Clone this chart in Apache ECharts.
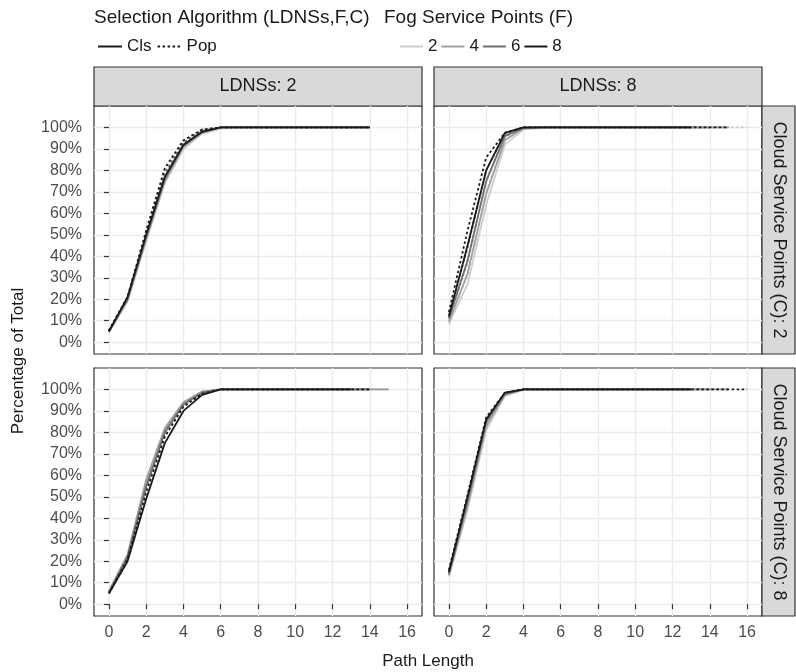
<!DOCTYPE html>
<html>
<head>
<meta charset="utf-8">
<script src="https://cdn.jsdelivr.net/npm/echarts@6/dist/echarts.min.js"></script>
<style>
  html, body { margin: 0; padding: 0; background: #fff; }
  #main { width: 796px; height: 672px; }
</style>
</head>
<body>
<div id="main"></div>
<script>
// path length (x) and tick labels
const pathLength = [0, 1, 2, 3, 4, 5, 6, 7, 8, 9, 10, 11, 12, 13, 14, 15, 16];
const xTicks = [0, 2, 4, 6, 8, 10, 12, 14, 16];
const yTicks = [0, 10, 20, 30, 40, 50, 60, 70, 80, 90, 100];
const algorithms = ['Cls', 'Pop'];
const fogPoints = ['2', '4', '6', '8'];
const ldnsLabels = ['LDNSs: 2', 'LDNSs: 8'];
const cloudLabels = ['Cloud Service Points (C): 2', 'Cloud Service Points (C): 8'];

// LDNSs 2, C 2 (percentage of total)
const l2c2ClsF2 = [4.5, 19, 47, 74, 90, 97, 99.5, 100, 100, 100, 100, 100, 100, 100, 100];
const l2c2ClsF4 = [5, 19.5, 48, 75, 91, 97.5, 100, 100, 100, 100, 100, 100, 100, 100, 100];
const l2c2ClsF6 = [5, 20, 49, 76, 91.5, 98, 100, 100, 100, 100, 100, 100, 100, 100, 100];
const l2c2ClsF8 = [5, 21, 50, 77, 92, 98, 100, 100, 100, 100, 100, 100, 100, 100, 100];
const l2c2PopF2 = [5, 20, 49, 77, 92, 98.5, 100, 100, 100, 100, 100, 100, 100, 100, 100];
const l2c2PopF4 = [5, 20.5, 50, 78, 92.5, 98.5, 100, 100, 100, 100, 100, 100, 100, 100, 100];
const l2c2PopF6 = [5.5, 21, 51, 79, 93, 99, 100, 100, 100, 100, 100, 100, 100, 100, 100];
const l2c2PopF8 = [5.5, 21, 52, 81, 94, 99, 100, 100, 100, 100, 100, 100, 100, 100, 100];

// LDNSs 8, C 2
const l8c2ClsF2 = [8.5, 27, 64, 92, 99, 99.8, 100, 100, 100, 100, 100, 100, 100, 100, 100];
const l8c2ClsF4 = [9.5, 32, 69, 94, 99.5, 100, 100, 100, 100, 100, 100, 100, 100, 100, 100];
const l8c2ClsF6 = [11, 38, 75, 96, 99.8, 100, 100, 100, 100, 100, 100, 100, 100, 100];
const l8c2ClsF8 = [12, 45, 80, 97.5, 100, 100, 100, 100, 100, 100, 100, 100, 100, 100];
const l8c2PopF2 = [10, 31, 70, 95, 99.5, 100, 100, 100, 100, 100, 100, 100, 100, 100, 100, 100, 100];
const l8c2PopF4 = [11, 37, 75, 96, 99.8, 100, 100, 100, 100, 100, 100, 100, 100, 100, 100, 100];
const l8c2PopF6 = [12.5, 44, 80, 97, 100, 100, 100, 100, 100, 100, 100, 100, 100, 100, 100, 100];
const l8c2PopF8 = [14, 52, 86, 97.5, 100, 100, 100, 100, 100, 100, 100, 100, 100, 100, 100, 100];

// LDNSs 2, C 8
const l2c8ClsF2 = [6, 23, 57, 81, 94, 99, 100, 100, 100, 100, 100, 100, 100, 100, 100, 100];
const l2c8ClsF4 = [6, 23, 58, 82, 94, 99, 100, 100, 100, 100, 100, 100, 100, 100, 100, 100];
const l2c8ClsF6 = [5.5, 22, 55, 80, 93, 98.5, 100, 100, 100, 100, 100, 100, 100, 100, 100];
const l2c8ClsF8 = [5, 20, 49, 75, 90, 97.5, 100, 100, 100, 100, 100, 100, 100, 100];
const l2c8PopF2 = [6, 23, 56, 81, 93.5, 99, 100, 100, 100, 100, 100, 100, 100, 100, 100, 100];
const l2c8PopF4 = [6, 22, 55, 81, 93, 99, 100, 100, 100, 100, 100, 100, 100, 100, 100];
const l2c8PopF6 = [5.5, 22, 54, 80, 93, 98.5, 100, 100, 100, 100, 100, 100, 100, 100, 100];
const l2c8PopF8 = [5, 21, 52, 78, 92, 98, 100, 100, 100, 100, 100, 100, 100, 100, 100];

// LDNSs 8, C 8
const l8c8ClsF2 = [13, 44, 81, 97, 99.8, 100, 100, 100, 100, 100, 100, 100, 100, 100, 100];
const l8c8ClsF4 = [13.5, 46, 83, 97.5, 100, 100, 100, 100, 100, 100, 100, 100, 100, 100, 100];
const l8c8ClsF6 = [14, 48, 85, 98, 100, 100, 100, 100, 100, 100, 100, 100, 100, 100];
const l8c8ClsF8 = [15, 50, 86, 98.5, 100, 100, 100, 100, 100, 100, 100, 100, 100, 100];
const l8c8PopF2 = [13, 45, 82, 97, 100, 100, 100, 100, 100, 100, 100, 100, 100, 100, 100, 100];
const l8c8PopF4 = [14, 47, 84, 97.5, 100, 100, 100, 100, 100, 100, 100, 100, 100, 100, 100, 100];
const l8c8PopF6 = [15, 49, 85, 98, 100, 100, 100, 100, 100, 100, 100, 100, 100, 100, 100, 100];
const l8c8PopF8 = [16, 51, 87, 98.5, 100, 100, 100, 100, 100, 100, 100, 100, 100, 100, 100, 100, 100];

// panel order: top-left, top-right, bottom-left, bottom-right
const panelCls = [
  [l2c2ClsF2, l2c2ClsF4, l2c2ClsF6, l2c2ClsF8],
  [l8c2ClsF2, l8c2ClsF4, l8c2ClsF6, l8c2ClsF8],
  [l2c8ClsF2, l2c8ClsF4, l2c8ClsF6, l2c8ClsF8],
  [l8c8ClsF2, l8c8ClsF4, l8c8ClsF6, l8c8ClsF8]
];
const panelPop = [
  [l2c2PopF2, l2c2PopF4, l2c2PopF6, l2c2PopF8],
  [l8c2PopF2, l8c2PopF4, l8c2PopF6, l8c2PopF8],
  [l2c8PopF2, l2c8PopF4, l2c8PopF6, l2c8PopF8],
  [l8c8PopF2, l8c8PopF4, l8c8PopF6, l8c8PopF8]
];

const fogColors = ['#cccccc', '#a0a0a0', '#6e6e6e', '#1a1a1a'];
const dotted = [2.5, 2.5];
const font = 'Liberation Sans, Arial, Helvetica, sans-serif';

const chartDom = document.getElementById('main');
const myChart = echarts.init(chartDom);

const lefts = [94, 434, 94, 434];
const tops = [106, 106, 368, 368];

const grids = lefts.map((l, i) => ({
  left: l, top: tops[i], width: 328, height: 248,
  show: true, borderColor: '#333333', borderWidth: 1.2, backgroundColor: 'transparent'
}));

const xAxes = grids.map((g, i) => ({
  type: 'value', gridIndex: i, min: -0.8, max: 16.8,
  axisLine: { show: false },
  axisTick: { show: i >= 2, customValues: xTicks, length: 5, lineStyle: { color: '#333333', width: 1.2 } },
  axisLabel: { show: i >= 2, customValues: xTicks, margin: 9, color: '#4d4d4d', fontSize: 16, fontFamily: font },
  splitLine: { show: true, lineStyle: { color: '#ebebeb', width: 1.4 } }
}));

const yAxes = grids.map((g, i) => ({
  type: 'value', gridIndex: i, min: -5.5, max: 110,
  axisLine: { show: false },
  axisTick: { show: i % 2 === 0, customValues: yTicks, length: 5, lineStyle: { color: '#333333', width: 1.2 } },
  axisLabel: { show: i % 2 === 0, customValues: yTicks, margin: 12, formatter: '{value}%', color: '#4d4d4d', fontSize: 16, fontFamily: font },
  splitLine: { show: true, lineStyle: { color: '#ebebeb', width: 1.4 } }
}));

const series = [];
for (let p = 0; p < 4; p++) {
  for (let f = 0; f < fogPoints.length; f++) {
    [[panelPop, 'Pop'], [panelCls, 'Cls']].forEach(([src, alg]) => {
      const vals = src[p][f];
      series.push({
        name: alg + ' F' + fogPoints[f] + ' #' + p,
        type: 'line', xAxisIndex: p, yAxisIndex: p,
        data: vals.map((v, k) => [pathLength[k], v]),
        symbol: 'none', silent: true,
        lineStyle: { color: fogColors[f], width: 1.8, type: alg === 'Pop' ? dotted : 'solid' }
      });
    });
  }
}

// legend-only series
algorithms.forEach(a => series.push({
  name: a, type: 'line', xAxisIndex: 0, yAxisIndex: 0, data: [], symbol: 'none',
  color: '#1a1a1a', lineStyle: { color: '#1a1a1a', width: 1.8, type: a === 'Pop' ? dotted : 'solid' }
}));
fogPoints.forEach((fp, f) => series.push({
  name: fp, type: 'line', xAxisIndex: 0, yAxisIndex: 0, data: [], symbol: 'none',
  color: fogColors[f], lineStyle: { color: fogColors[f], width: 1.8 }
}));

const legendText = { fontSize: 17, color: '#1a1a1a', fontFamily: font };

const graphics = [
  { type: 'text', x: 94, y: 18, style: { text: 'Selection Algorithm (LDNSs,F,C)', fill: '#1a1a1a', font: '19px ' + font, verticalAlign: 'middle' } },
  { type: 'text', x: 384, y: 18, style: { text: 'Fog Service Points (F)', fill: '#1a1a1a', font: '19px ' + font, verticalAlign: 'middle' } },
  { type: 'text', x: 428, y: 661, style: { text: 'Path Length', fill: '#1a1a1a', font: '17px ' + font, align: 'center', verticalAlign: 'middle' } },
  { type: 'text', x: 18, y: 361, rotation: Math.PI / 2, style: { text: 'Percentage of Total', fill: '#1a1a1a', font: '17px ' + font, align: 'center', verticalAlign: 'middle' } }
];
ldnsLabels.forEach((t, i) => {
  graphics.push({ type: 'rect', shape: { x: lefts[i], y: 67, width: 328, height: 39 }, style: { fill: '#d9d9d9', stroke: '#333333', lineWidth: 1.2 } });
  graphics.push({ type: 'text', x: lefts[i] + 164, y: 86.5, style: { text: t, fill: '#1a1a1a', font: '18px ' + font, align: 'center', verticalAlign: 'middle' } });
});
cloudLabels.forEach((t, i) => {
  const top = tops[i * 2];
  graphics.push({ type: 'rect', shape: { x: 762, y: top, width: 33, height: 248 }, style: { fill: '#d9d9d9', stroke: '#333333', lineWidth: 1.2 } });
  graphics.push({ type: 'text', x: 778.5, y: top + 124, rotation: -Math.PI / 2, style: { text: t, fill: '#1a1a1a', font: '18px ' + font, align: 'center', verticalAlign: 'middle' } });
});

const option = {
  animation: false,
  grid: grids,
  xAxis: xAxes,
  yAxis: yAxes,
  legend: [
    { data: algorithms, left: 97, top: 38, padding: 0, itemWidth: 24, itemHeight: 14, itemGap: 5,
      itemStyle: { opacity: 0 }, textStyle: legendText, selectedMode: false },
    { data: fogPoints, left: 399, top: 38, padding: 0, itemWidth: 23, itemHeight: 14, itemGap: 3,
      itemStyle: { opacity: 0 }, textStyle: legendText, selectedMode: false }
  ],
  graphic: graphics,
  series: series
};
option && myChart.setOption(option);
</script>
</body>
</html>
